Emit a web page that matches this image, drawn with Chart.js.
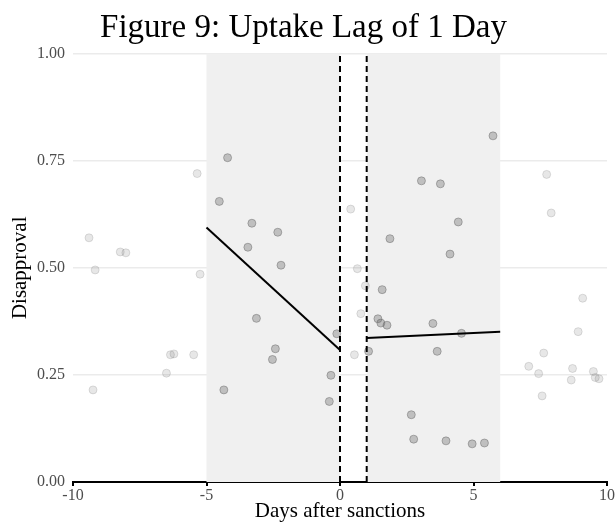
<!DOCTYPE html>
<html>
<head>
<meta charset="utf-8">
<script src="https://cdn.jsdelivr.net/npm/chart.js@4"></script>
<style>
  html, body { margin: 0; padding: 0; background: #fff; }
  #wrap { width: 615px; height: 525px; }
</style>
</head>
<body>
<div id="wrap"><canvas id="lagChart" width="615" height="525"></canvas></div>
<script>
// days inside the estimation windows (darker points)
const insideDays = [-4.21, -4.52, -3.30, -2.33, -3.45, -2.21, -3.13, -0.12, -2.42, -2.53, -0.34, -4.35, -0.40,
    5.73, 3.05, 3.76, 4.43, 1.87, 4.12, 1.58, 1.42, 1.53, 1.76, 3.48, 4.55, 1.07, 3.64, 2.67, 2.76, 3.97, 4.95, 5.41];
const insideValues = [0.757, 0.655, 0.604, 0.583, 0.548, 0.506, 0.382, 0.346, 0.311, 0.286, 0.249, 0.215, 0.188,
    0.808, 0.703, 0.696, 0.607, 0.568, 0.532, 0.449, 0.381, 0.371, 0.366, 0.370, 0.347, 0.305, 0.305, 0.157, 0.100, 0.096, 0.089, 0.091];

// days outside the windows (light points)
const outsideDays = [-9.40, -9.17, -9.25, -8.23, -8.02, -5.35, -5.24, -5.48, -6.50, -6.35, -6.22,
    0.40, 0.65, 0.54, 0.78, 0.95,
    7.74, 7.91, 9.09, 8.92, 7.63, 7.07, 7.44, 8.71, 8.66, 9.49, 9.56, 9.70, 7.57];
const outsideValues = [0.570, 0.495, 0.215, 0.537, 0.535, 0.720, 0.485, 0.297, 0.254, 0.297, 0.299,
    0.637, 0.498, 0.297, 0.393, 0.458,
    0.718, 0.628, 0.429, 0.351, 0.301, 0.270, 0.253, 0.265, 0.238, 0.258, 0.244, 0.241, 0.201];

// fitted lines before and after
const fitBeforeX = [-5, 0];
const fitBeforeY = [0.594, 0.308];
const fitAfterX = [1, 6];
const fitAfterY = [0.336, 0.351];

const windows = [[-5, 0], [1, 6]];
const cutoffs = [0, 1];
const xTicks = [-10, -5, 0, 5, 10];
const yTicks = [0, 0.25, 0.5, 0.75, 1];

const serif = "'Liberation Serif', 'DejaVu Serif', serif";

const toPoints = (xs, ys) => xs.map((x, i) => ({ x: x, y: ys[i] }));

// grey windows behind everything
const windowShade = {
    id: "windowShade",
    beforeDatasetsDraw(chart) {
        const { ctx, chartArea, scales } = chart;
        ctx.save();
        ctx.fillStyle = "#f0f0f0";
        windows.forEach(([a, b]) => {
            const x1 = scales.x.getPixelForValue(a);
            const x2 = scales.x.getPixelForValue(b);
            ctx.fillRect(x1, chartArea.top, x2 - x1, chartArea.bottom - chartArea.top);
        });
        ctx.restore();
    },
};

const cutoffSets = cutoffs.map((c) => ({
    type: "line",
    data: [{ x: c, y: 0 }, { x: c, y: 1 }],
    borderColor: "#000",
    borderWidth: 2,
    borderDash: [6, 4],
    pointRadius: 0,
    order: 0,
}));

const ctx = document.getElementById("lagChart").getContext("2d");
const lagChart = new Chart(ctx, {
    type: "scatter",
    data: {
        datasets: [
            {
                data: toPoints(outsideDays, outsideValues),
                backgroundColor: "rgba(120,120,120,0.18)",
                borderColor: "rgba(120,120,120,0.22)",
                borderWidth: 1,
                pointRadius: 4,
                order: 3,
            },
            {
                data: toPoints(insideDays, insideValues),
                backgroundColor: "rgba(110,110,110,0.38)",
                borderColor: "rgba(90,90,90,0.42)",
                borderWidth: 1,
                pointRadius: 4,
                order: 2,
            },
            {
                type: "line",
                data: toPoints(fitBeforeX, fitBeforeY),
                borderColor: "#000",
                borderWidth: 2,
                pointRadius: 0,
                order: 1,
            },
            {
                type: "line",
                data: toPoints(fitAfterX, fitAfterY),
                borderColor: "#000",
                borderWidth: 2,
                pointRadius: 0,
                order: 1,
            },
            ...cutoffSets,
        ],
    },
    options: {
        responsive: false,
        animation: false,
        layout: { padding: { left: 0, right: 8, top: 0, bottom: 0 } },
        plugins: {
            legend: { display: false },
            tooltip: { enabled: false },
            title: {
                display: true,
                text: "Figure 9: Uptake Lag of 1 Day",
                color: "#000",
                font: { family: serif, size: 33, weight: "normal" },
                padding: { top: 9, bottom: 5 },
            },
        },
        scales: {
            x: {
                type: "linear",
                min: -10,
                max: 10,
                afterBuildTicks: (s) => { s.ticks = xTicks.map((v) => ({ value: v })); },
                afterFit: (s) => { s.height = 43; },
                ticks: {
                    color: "#4d4d4d",
                    font: { family: serif, size: 16 },
                    padding: 0,
                    maxRotation: 0,
                },
                grid: { drawOnChartArea: false, drawTicks: true, tickLength: 4, color: "#000", lineWidth: 2 },
                border: { display: true, color: "#000", width: 2 },
                title: {
                    display: true,
                    text: "Days after sanctions",
                    color: "#000",
                    font: { family: serif, size: 21 },
                    padding: { top: 0, bottom: 1 },
                },
            },
            y: {
                type: "linear",
                min: 0,
                max: 1,
                afterBuildTicks: (s) => { s.ticks = yTicks.map((v) => ({ value: v })); },
                afterFit: (s) => { s.width = 73; },
                ticks: {
                    color: "#4d4d4d",
                    font: { family: serif, size: 16 },
                    padding: 8,
                    callback: (v) => Number(v).toFixed(2),
                },
                grid: { color: "#ebebeb", lineWidth: 1.5, drawTicks: false },
                border: { display: false },
                title: {
                    display: true,
                    text: "Disapproval",
                    color: "#000",
                    font: { family: serif, size: 21 },
                    padding: { top: 8, bottom: 4 },
                },
            },
        },
    },
    plugins: [windowShade],
});
</script>
</body>
</html>
